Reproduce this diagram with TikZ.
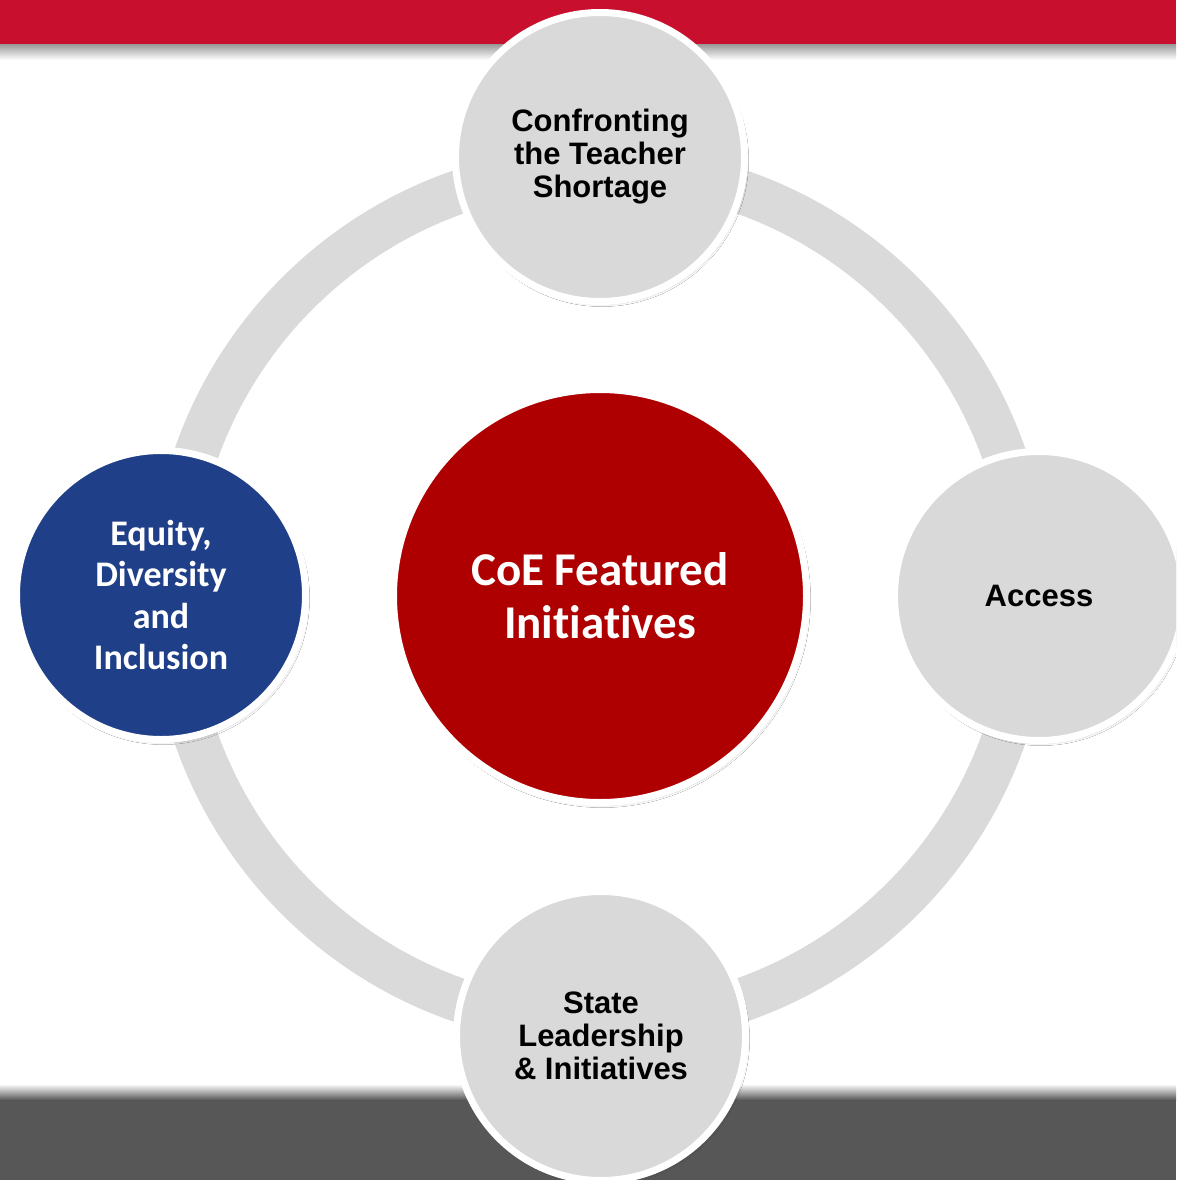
\documentclass[tikz,border=0pt]{standalone}
\usepackage{fontspec}
\setmainfont{Liberation Sans}
\newfontfamily\calfont[Ligatures=NoCommon]{Carlito}
\usetikzlibrary{shadows.blur}
\definecolor{barred}{HTML}{C8102E}
\definecolor{corered}{HTML}{AE0000}
\definecolor{eqblue}{HTML}{1F4088}
\definecolor{ltgray}{HTML}{D9D9D9}
\definecolor{ringgray}{HTML}{DADADA}
\definecolor{bardark}{HTML}{575757}
\begin{document}
\begin{tikzpicture}[x=1pt,y=-1pt,
  bubble/.style={circle, inner sep=0pt, minimum size=289pt, draw=white, line width=7pt,
    blur shadow={shadow xshift=2pt, shadow yshift=-3pt, shadow blur steps=6, shadow opacity=20}},
  graybubble/.style={bubble, fill=ltgray, text=black, align=center,
    font=\bfseries\fontsize{31pt}{33pt}\selectfont},
  bluebubble/.style={bubble, fill=eqblue, text=white, align=center,
    font=\calfont\bfseries\fontsize{36pt}{41.5pt}\selectfont},
  corebubble/.style={bubble, minimum size=413pt, fill=corered, text=white, align=center,
    font=\calfont\bfseries\fontsize{47pt}{53pt}\selectfont}]
\useasboundingbox (0,0) rectangle (1176,1180);
\clip (0,0) rectangle (1176,1180);
\fill[white] (0,0) rectangle (1176,1180);
% top bar with shadow
\shade[top color=black!40, bottom color=white] (0,44) rectangle (1176,60);
\fill[barred] (0,0) rectangle (1176,44);
% bottom bar
\shade[top color=white, bottom color=bardark] (0,1084) rectangle (1176,1100);
\fill[bardark] (0,1100) rectangle (1176,1180);
% ring
\coordinate (ctr) at (600,596);
\draw[ringgray, line width=44pt] (ctr) circle[radius=428pt];
% bubbles
\node[corebubble] (core) at (ctr) {CoE Featured\\Initiatives};
\node[graybubble] (top) at (600,157) {Confronting\\the Teacher\\Shortage};
\node[graybubble] (right) at (1039,596) {Access};
\node[graybubble] (bottom) at (601,1036) {State\\Leadership\\\& Initiatives};
\node[bluebubble] (left) at (161,595) {Equity,\\Diversity\\and\\Inclusion};
\end{tikzpicture}
\end{document}
